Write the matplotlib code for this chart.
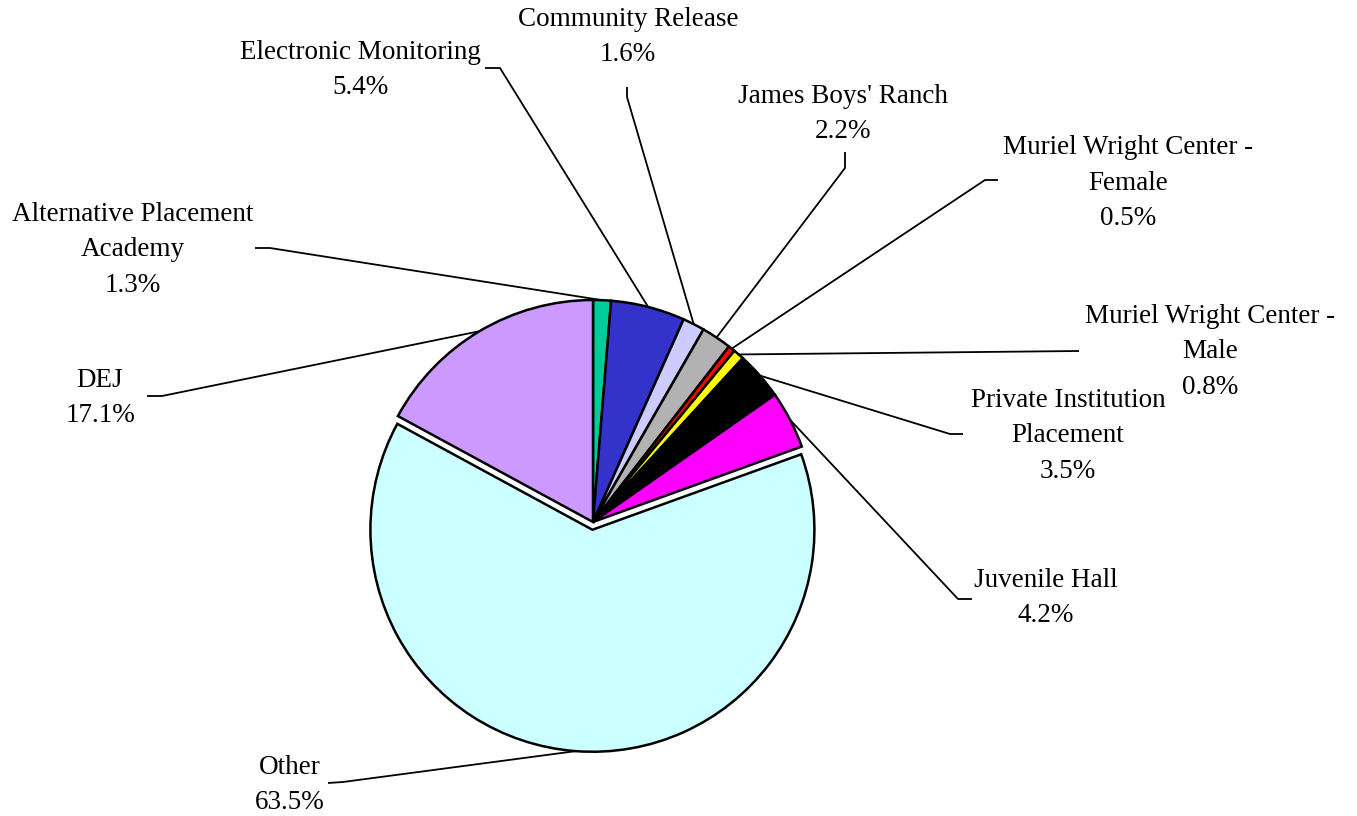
import matplotlib
matplotlib.use("Agg")
import matplotlib.pyplot as plt
import numpy as np

# Placement categories, clockwise from 12 o'clock
categories = [
    "Alternative Placement\nAcademy",
    "Electronic Monitoring",
    "Community Release",
    "James Boys' Ranch",
    "Muriel Wright Center -\nFemale",
    "Muriel Wright Center -\nMale",
    "Private Institution\nPlacement",
    "Juvenile Hall",
    "Other",
    "DEJ",
]
shares = [1.3, 5.4, 1.6, 2.2, 0.5, 0.8, 3.5, 4.2, 63.5, 17.1]
colors = ["#00CC99", "#3333CC", "#CCCCFF", "#B2B2B2", "#FF0000",
          "#FFFF00", "#000000", "#FF00FF", "#CCFFFF", "#CC99FF"]
exploded = [0, 0, 0, 0, 0, 0, 0, 0, 1, 0]

W, H = 1357, 816
fig = plt.figure(figsize=(W / 100, H / 100), dpi=100)
ax = fig.add_axes([0, 0, 1, 1])
ax.set_xlim(0, W)
ax.set_ylim(0, H)
ax.axis("off")


def px(x, y):
    """Canvas pixel (from top-left) to axes data coordinates."""
    return x, H - y


radius = 222
centre = px(593, 522)
explode = [0.035 * radius * e for e in exploded]

wedges, _ = ax.pie(
    shares, colors=colors, startangle=90, counterclock=False,
    radius=radius, center=centre, explode=explode, normalize=True,
    wedgeprops=dict(edgecolor="black", linewidth=1.8),
)
ax.set_xlim(0, W)
ax.set_ylim(0, H)
ax.set_aspect("equal")

# Label block centres and leader-line elbows (canvas pixels)
label_pos = [(133, 250), (360, 70), (628, 37), (843, 114), (1128, 183),
             (1210, 352), (1068, 436), (1046, 598), (290, 785), (100, 398)]
elbows = [
    [(255, 248), (270, 248)],
    [(485, 68), (500, 68)],
    [(627, 87), (627, 97)],
    [(845, 152), (845, 168)],
    [(998, 180), (985, 180)],
    [(1079, 351)],
    [(963, 434), (950, 434)],
    [(972, 599), (958, 599)],
    [(328, 783), (343, 782)],
    [(147, 396), (162, 396)],
]

font = dict(family=["Liberation Serif", "DejaVu Serif"], size=19.5)

for wedge, name, val, (lx, ly), elb in zip(wedges, categories, shares,
                                           label_pos, elbows):
    tm = np.deg2rad(0.5 * (wedge.theta1 + wedge.theta2))
    cx, cy = wedge.center
    ex = cx + wedge.r * np.cos(tm)
    ey = cy + wedge.r * np.sin(tm)
    xs = [px(*p)[0] for p in elb] + [ex]
    ys = [px(*p)[1] for p in elb] + [ey]
    ax.plot(xs, ys, color="black", linewidth=1.3, solid_capstyle="butt",
            zorder=3)
    tx, ty = px(lx, ly)
    ax.text(tx, ty, f"{name}\n{val:.1f}%", ha="center", va="center",
            multialignment="center", linespacing=1.57, **font)

fig.savefig("out.png", dpi=100)
